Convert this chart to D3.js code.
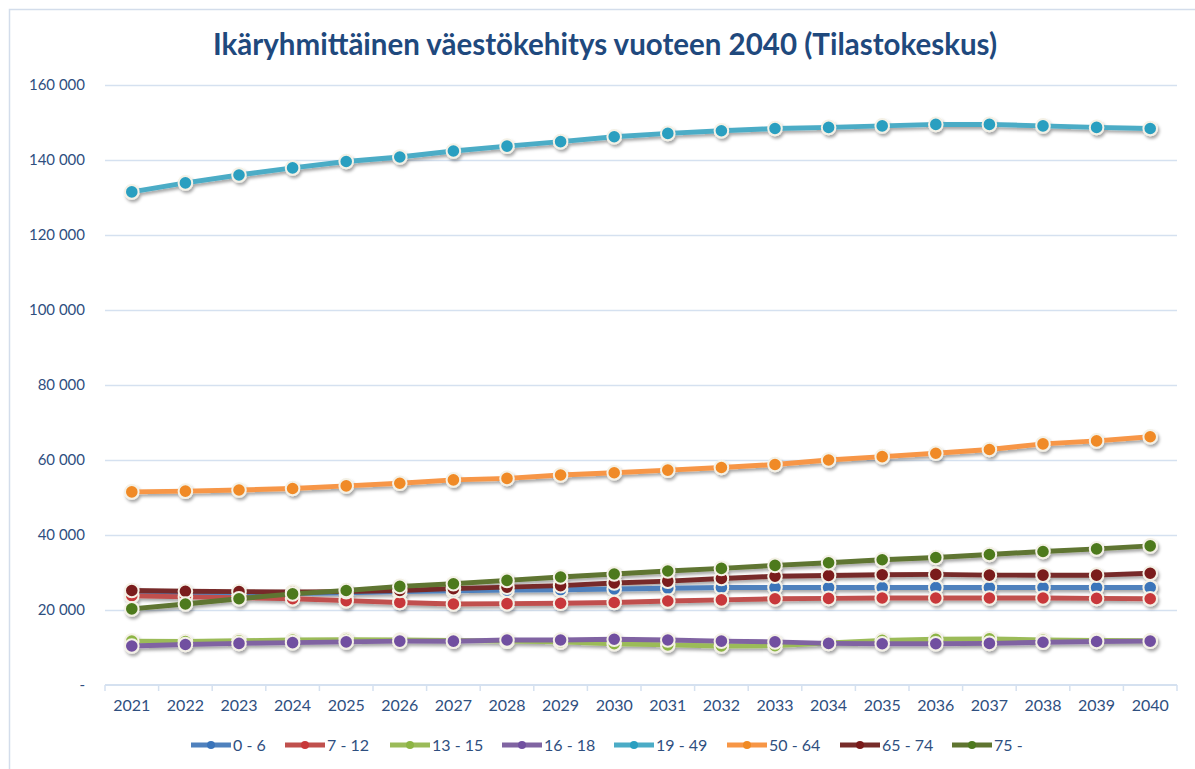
<!DOCTYPE html>
<html>
<head>
<meta charset="utf-8">
<script src="https://cdn.jsdelivr.net/npm/d3@7"></script>
<style>
  body { margin: 0; background: #fff; }
  svg { display: block; font-family: Lato, "Open Sans", sans-serif; }
</style>
</head>
<body>
<div id="chartContainer"></div>
<script>
const years = [2021, 2022, 2023, 2024, 2025, 2026, 2027, 2028, 2029, 2030,
  2031, 2032, 2033, 2034, 2035, 2036, 2037, 2038, 2039, 2040];

const age0to6 = [24000, 24000, 24200, 24400, 24600, 24900, 25100, 25300, 25400, 25600,
  25800, 26000, 26000, 26000, 26000, 26000, 26000, 26000, 26000, 26000];
const age7to12 = [23800, 23500, 23300, 23000, 22500, 22000, 21600, 21700, 21800, 22000,
  22400, 22700, 23000, 23100, 23200, 23200, 23200, 23200, 23100, 23000];
const age13to15 = [11700, 11600, 11800, 12000, 12100, 12000, 11900, 11700, 11500, 11000,
  10700, 10400, 10500, 11200, 11900, 12200, 12300, 12000, 11900, 11800];
const age16to18 = [10400, 10800, 11100, 11300, 11500, 11700, 11700, 12000, 12000, 12200,
  12000, 11700, 11500, 11100, 11000, 11000, 11100, 11400, 11600, 11700];
const age19to49 = [131500, 133900, 136000, 137900, 139600, 140800, 142400, 143700, 144900, 146200,
  147100, 147800, 148400, 148700, 149100, 149500, 149500, 149100, 148700, 148400];
const age50to64 = [51500, 51700, 52000, 52400, 53100, 53800, 54700, 55100, 56000, 56600,
  57300, 58000, 58800, 60000, 60900, 61800, 62800, 64300, 65100, 66200];
const age65to74 = [25200, 25000, 24900, 24800, 24900, 25200, 25700, 26100, 26500, 27200,
  27700, 28400, 29000, 29200, 29400, 29500, 29300, 29300, 29300, 29800];
const age75plus = [20300, 21600, 23000, 24300, 25200, 26300, 27000, 27900, 28800, 29600,
  30400, 31100, 31900, 32600, 33400, 34000, 34800, 35600, 36300, 37100];

const seriesNames = ["0 - 6", "7 - 12", "13 - 15", "16 - 18", "19 - 49", "50 - 64", "65 - 74", "75 -"];
const yTicks = [0, 20000, 40000, 60000, 80000, 100000, 120000, 140000, 160000];
const title = "Ikäryhmittäinen väestökehitys vuoteen 2040 (Tilastokeskus)";

const lineColors = ["#4F81BD", "#C0504D", "#9BBB59", "#8064A2", "#4BACC6", "#F79646", "#772C2A", "#5F7530"];
const dotColors  = ["#3A74BA", "#C8393A", "#8DB544", "#7150A0", "#2A9FC0", "#F08A25", "#7A1A1A", "#4E7A1E"];

const seriesValues = [age0to6, age7to12, age13to15, age16to18, age19to49, age50to64, age65to74, age75plus];
const data = seriesNames.map((name, i) => ({
  name,
  line: lineColors[i],
  dot: dotColors[i],
  values: years.map((y, j) => ({ year: y, value: seriesValues[i][j] }))
}));

const width = 1195;
const height = 769;
const marginTop = 85;
const marginLeft = 105;
const marginRight = 18;
const plotBottom = 685;

const textColor = "#2F4F7F";
const gridColor = "#D5E1F0";

const x = d3.scaleBand()
  .domain(years)
  .range([marginLeft, width - marginRight])
  .padding(0);

const y = d3.scaleLinear()
  .domain([0, 160000])
  .range([plotBottom, marginTop]);

const locale = d3.formatLocale({ decimal: ",", thousands: "\u00a0", grouping: [3], currency: ["", "€"] });
const fmt = locale.format(",d");

const svg = d3.create("svg")
  .attr("width", width)
  .attr("height", height)
  .attr("viewBox", [0, 0, width, height]);

document.getElementById("chartContainer").appendChild(svg.node());

const defs = svg.append("defs");
const shadow = defs.append("filter")
  .attr("id", "shadow")
  .attr("x", "-20%").attr("y", "-20%")
  .attr("width", "140%").attr("height", "160%");
shadow.append("feDropShadow")
  .attr("dx", 1.5).attr("dy", 2.5)
  .attr("stdDeviation", 1.6)
  .attr("flood-color", "#000")
  .attr("flood-opacity", 0.35);

// outer frame
svg.append("rect")
  .attr("x", 9.5).attr("y", 9.5)
  .attr("width", 1210).attr("height", 800)
  .attr("fill", "#fff")
  .attr("stroke", "#D3DDEB")
  .attr("stroke-width", 1.5);

svg.append("text")
  .attr("x", 605)
  .attr("y", 55)
  .attr("text-anchor", "middle")
  .attr("font-weight", "bold")
  .attr("font-size", 29.5)
  .attr("fill", "#1F497D")
  .text(title);

// gridlines + y labels
svg.append("g")
  .attr("transform", `translate(${marginLeft},0)`)
  .call(d3.axisLeft(y).tickValues(yTicks.filter(d => d > 0))
    .tickSize(-(width - marginRight - marginLeft)).tickFormat(""))
  .call(g => g.select(".domain").remove())
  .call(g => g.selectAll("line").attr("stroke", gridColor).attr("stroke-width", 1.5));

svg.append("g")
  .selectAll("text")
  .data(yTicks)
  .join("text")
  .attr("x", 85)
  .attr("y", d => y(d))
  .attr("dy", "0.35em")
  .attr("text-anchor", "end")
  .attr("font-size", 15)
  .attr("fill", textColor)
  .text(d => d === 0 ? "-" : fmt(d));

// x axis
const xAxis = svg.append("g")
  .attr("transform", `translate(0,${plotBottom})`);
xAxis.append("line")
  .attr("x1", x.range()[0]).attr("x2", x.range()[1])
  .attr("stroke", gridColor).attr("stroke-width", 2);
xAxis.selectAll(".tick-mark")
  .data(years.map(d => x(d)).concat([x.range()[1]]))
  .join("line")
  .attr("class", "tick-mark")
  .attr("x1", d => d).attr("x2", d => d)
  .attr("y1", 0).attr("y2", 6)
  .attr("stroke", gridColor).attr("stroke-width", 1.5);
xAxis.selectAll("text")
  .data(years)
  .join("text")
  .attr("x", d => x(d) + x.bandwidth() / 2)
  .attr("y", 26)
  .attr("text-anchor", "middle")
  .attr("font-size", 16)
  .attr("fill", textColor)
  .text(d => d);

const cx = d => x(d.year) + x.bandwidth() / 2;
const line = d3.line()
  .x(cx)
  .y(d => y(d.value));

const plot = svg.append("g").attr("filter", "url(#shadow)");
data.forEach(s => {
  const g = plot.append("g");
  g.append("path")
    .datum(s.values)
    .attr("fill", "none")
    .attr("stroke", s.line)
    .attr("stroke-width", 5)
    .attr("stroke-linejoin", "round")
    .attr("d", line);
  g.selectAll("circle")
    .data(s.values)
    .join("circle")
    .attr("cx", cx)
    .attr("cy", d => y(d.value))
    .attr("r", 6.8)
    .attr("fill", s.dot)
    .attr("stroke", "#F4F1E6")
    .attr("stroke-width", 2);
});

// legend
const legendItemWidths = [94, 105, 112, 112, 113, 113, 112, 90];
const legendX = d3.cumsum([191].concat(legendItemWidths.slice(0, -1)));
const legend = svg.append("g")
  .selectAll("g")
  .data(data)
  .join("g")
  .attr("transform", (d, i) => `translate(${legendX[i]},745)`);
legend.append("line")
  .attr("x1", 0).attr("x2", 40)
  .attr("stroke", d => d.line)
  .attr("stroke-width", 5);
legend.append("circle")
  .attr("cx", 20).attr("r", 4)
  .attr("fill", d => d.dot);
legend.append("text")
  .attr("x", 42)
  .attr("dy", "0.35em")
  .attr("font-size", 16)
  .attr("fill", textColor)
  .text(d => d.name);
</script>
</body>
</html>
